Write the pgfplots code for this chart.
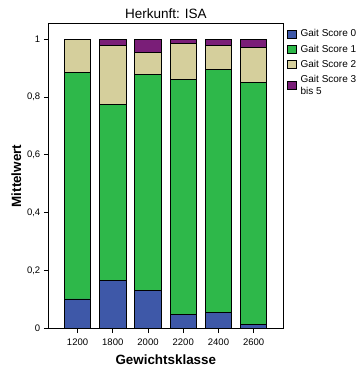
\documentclass[border=0pt]{standalone}
\usepackage{fontspec}
\setmainfont{Liberation Sans}
\usepackage{pgfplots}
\pgfplotsset{compat=1.18}
\definecolor{gs0}{RGB}{62,88,168}
\definecolor{gs1}{RGB}{46,184,74}
\definecolor{gs2}{RGB}{213,207,156}
\definecolor{gs3}{RGB}{122,30,120}
\begin{document}
\begin{tikzpicture}
\begin{axis}[name=ax, scale only axis, width=235pt, height=305pt,
  ybar stacked, bar width=26.4pt,
  xmin=-0.83, xmax=5.84, ymin=0, ymax=1.054,
  xtick={0,1,2,3,4,5}, xticklabels={1200,1800,2000,2200,2400,2600},
  ytick={0,0.2,0.4,0.6,0.8,1},
  yticklabels={0,{0,2},{0,4},{0,6},{0,8},1},
  xtick pos=bottom, ytick pos=left, tick align=outside,
  major tick length=4.5pt, tick style={black, line width=0.8pt},
  axis line style={line width=1pt},
  ticklabel style={font=\fontsize{9.5}{11}\selectfont},
  xticklabel style={yshift=-2pt},
  /pgf/number format/assume math mode=true,
  title={Herkunft: ISA}, title style={font=\fontsize{13.5}{15}\selectfont, yshift=-4.5pt},
  xlabel={Gewichtsklasse}, ylabel={Mittelwert},
  xlabel style={font=\bfseries\fontsize{13.4}{15}\selectfont, at={(axis description cs:0.5,-0.1033)}, anchor=center},
  ylabel style={font=\bfseries\fontsize{13.4}{15}\selectfont, at={(axis description cs:-0.136,0.5)}, anchor=center},
  legend style={at={(axis description cs:1,1)}, anchor=north west, xshift=4pt, yshift=-4pt, draw=none, fill=none,
    inner sep=0pt, font=\fontsize{10}{11.5}\selectfont, cells={anchor=west, align=left}, row sep=2.5pt},
  legend image code/.code={\draw[#1, draw=black, line width=0.6pt] (0pt,-4pt) rectangle (8.6pt,4pt); \path (10.4pt,0pt);},
  every axis plot/.append style={draw=black, line width=0.9pt},
]
\addplot[fill=gs0] coordinates {(0,0.102) (1,0.165) (2,0.130) (3,0.048) (4,0.057) (5,0.013)};
\addlegendentry{Gait Score 0}
\addplot[fill=gs1] coordinates {(0,0.782) (1,0.609) (2,0.748) (3,0.813) (4,0.838) (5,0.838)};
\addlegendentry{Gait Score 1}
\addplot[fill=gs2] coordinates {(0,0.114) (1,0.203) (2,0.076) (3,0.124) (4,0.082) (5,0.119)};
\addlegendentry{Gait Score 2}
\addplot[fill=gs3] coordinates {(0,0.002) (1,0.023) (2,0.046) (3,0.015) (4,0.023) (5,0.030)};
\addlegendentry{Gait Score 3\\bis 5}
\end{axis}
\pgfresetboundingbox
\useasboundingbox (ax.south west) ++(-48.3pt,-39.5pt) rectangle ++(356pt,368pt);
\end{tikzpicture}
\end{document}
